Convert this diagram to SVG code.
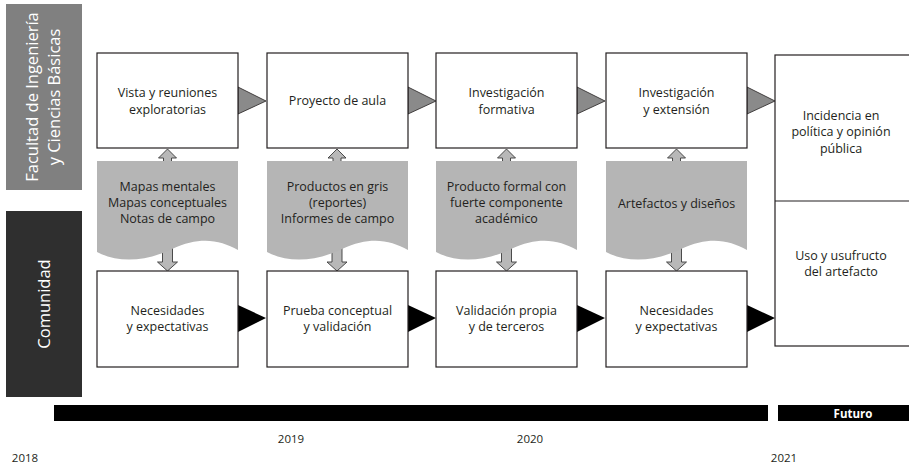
<svg xmlns="http://www.w3.org/2000/svg" width="909" height="467" viewBox="0 0 909 467">
<style>
.box{fill:#fff;stroke:#231f20;stroke-width:1.2}
.doc{fill:#b5b5b5}
.t{font-family:"Open Sans","Liberation Sans",sans-serif;font-size:12.5px;fill:#231f20;text-anchor:middle}
.side{font-family:"Open Sans","Liberation Sans",sans-serif;font-size:16.5px;fill:#fff;text-anchor:middle}
.yr{font-family:"Open Sans","Liberation Sans",sans-serif;font-size:11.5px;fill:#231f20;text-anchor:middle}
.gtri{fill:#8a8a8a;stroke:#231f20;stroke-width:0.8}
.btri{fill:#000}
.arr{fill:#b8b8b8;stroke:#3a3a3a;stroke-width:0.9}
</style>
<rect width="909" height="467" fill="#fff"/>
<g id="lane-facultad">
<rect x="6" y="4" width="76" height="186" fill="#808080"/>
<text class="side" transform="translate(38,97) rotate(-90)">Facultad de Ingeniería</text>
<text class="side" transform="translate(60,97) rotate(-90)">y Ciencias Básicas</text>
</g>
<g id="lane-comunidad">
<rect x="6" y="211" width="76" height="186" fill="#2f2f2f"/>
<text class="side" transform="translate(50,304) rotate(-90)">Comunidad</text>
</g>
<g id="connectors">
<polygon class="gtri" points="238,87 266,101 238,114"/>
<polygon class="gtri" points="408,87 436,101 408,114"/>
<polygon class="gtri" points="577,87 605,101 577,114"/>
<polygon class="gtri" points="747,87 775,101 747,114"/>
<polygon class="btri" points="238,305 266,318 238,332"/>
<polygon class="btri" points="408,305 436,318 408,332"/>
<polygon class="btri" points="577,305 605,318 577,332"/>
<polygon class="btri" points="747,305 775,318 747,332"/>
<path class="arr" d="M167.5,149 L176.5,158 L171.5,158 L171.5,163 L163.5,163 L163.5,158 L158.5,158 Z"/>
<path class="arr" d="M337,149 L346,158 L341,158 L341,163 L333,163 L333,158 L328,158 Z"/>
<path class="arr" d="M506.5,149 L515.5,158 L510.5,158 L510.5,163 L502.5,163 L502.5,158 L497.5,158 Z"/>
<path class="arr" d="M676.5,149 L685.5,158 L680.5,158 L680.5,163 L672.5,163 L672.5,158 L667.5,158 Z"/>
<path class="arr" d="M162.5,246 L172.5,246 L172.5,262 L177.5,262 L167.5,271 L157.5,262 L162.5,262 Z"/>
<path class="arr" d="M332,246 L342,246 L342,262 L347,262 L337,271 L327,262 L332,262 Z"/>
<path class="arr" d="M501.5,246 L511.5,246 L511.5,262 L516.5,262 L506.5,271 L496.5,262 L501.5,262 Z"/>
<path class="arr" d="M671.5,246 L681.5,246 L681.5,262 L686.5,262 L676.5,271 L666.5,262 L671.5,262 Z"/>
</g>
<g id="top1">
<rect class="box" x="97" y="53" width="141" height="95"/>
<text class="t" x="167.5" y="96.5">Vista y reuniones</text>
<text class="t" x="167.5" y="113.5">exploratorias</text>
</g>
<g id="top2">
<rect class="box" x="267" y="53" width="141" height="95"/>
<text class="t" x="337.5" y="105">Proyecto de aula</text>
</g>
<g id="top3">
<rect class="box" x="436" y="53" width="141" height="95"/>
<text class="t" x="506.5" y="96.5">Investigación</text>
<text class="t" x="506.5" y="113.5">formativa</text>
</g>
<g id="top4">
<rect class="box" x="606" y="53" width="141" height="95"/>
<text class="t" x="676.5" y="96.5">Investigación</text>
<text class="t" x="676.5" y="113.5">y extensión</text>
</g>
<g id="doc1">
<path class="doc" d="M97,161 H238 V250 C220,240 200,236 172,249 C145,262 118,263 97,252 Z"/>
<text class="t" x="167.5" y="190.5">Mapas mentales</text>
<text class="t" x="167.5" y="206.5">Mapas conceptuales</text>
<text class="t" x="167.5" y="222.5">Notas de campo</text>
</g>
<g id="doc2">
<path class="doc" d="M267,161 H408 V250 C390,240 370,236 342,249 C315,262 288,263 267,252 Z"/>
<text class="t" x="337.5" y="190.5">Productos en gris</text>
<text class="t" x="337.5" y="206.5">(reportes)</text>
<text class="t" x="337.5" y="222.5">Informes de campo</text>
</g>
<g id="doc3">
<path class="doc" d="M436,161 H577 V250 C559,240 539,236 511,249 C484,262 457,263 436,252 Z"/>
<text class="t" x="506.5" y="190.5">Producto formal con</text>
<text class="t" x="506.5" y="206.5">fuerte componente</text>
<text class="t" x="506.5" y="222.5">académico</text>
</g>
<g id="doc4">
<path class="doc" d="M606,161 H747 V250 C729,240 709,236 681,249 C654,262 627,263 606,252 Z"/>
<text class="t" x="676.5" y="207.5">Artefactos y diseños</text>
</g>
<g id="bot1">
<rect class="box" x="97" y="271" width="141" height="96"/>
<text class="t" x="167.5" y="314.5">Necesidades</text>
<text class="t" x="167.5" y="330.5">y expectativas</text>
</g>
<g id="bot2">
<rect class="box" x="267" y="271" width="141" height="96"/>
<text class="t" x="337.5" y="314.5">Prueba conceptual</text>
<text class="t" x="337.5" y="330.5">y validación</text>
</g>
<g id="bot3">
<rect class="box" x="436" y="271" width="141" height="96"/>
<text class="t" x="506.5" y="314.5">Validación propia</text>
<text class="t" x="506.5" y="330.5">y de terceros</text>
</g>
<g id="bot4">
<rect class="box" x="606" y="271" width="141" height="96"/>
<text class="t" x="676.5" y="314.5">Necesidades</text>
<text class="t" x="676.5" y="330.5">y expectativas</text>
</g>
<g id="outcome">
<rect class="box" x="775" y="55" width="140" height="291"/>
<line x1="775" y1="201" x2="909" y2="201" stroke="#231f20" stroke-width="1.2"/>
<text class="t" x="841" y="119.5">Incidencia en</text>
<text class="t" x="841" y="136">política y opinión</text>
<text class="t" x="841" y="152.5">pública</text>
<text class="t" x="841" y="259.5">Uso y usufructo</text>
<text class="t" x="841" y="275.5">del artefacto</text>
</g>
<g id="timeline">
<rect x="54" y="405" width="714" height="16" fill="#000"/>
<rect x="778" y="405" width="131" height="16" fill="#000"/>
<text x="853" y="417.5" font-family="'Open Sans','Liberation Sans',sans-serif" font-size="11.5" font-weight="bold" fill="#fff" text-anchor="middle">Futuro</text>
<text class="yr" x="291" y="443">2019</text>
<text class="yr" x="530" y="443">2020</text>
<text class="yr" x="25" y="462">2018</text>
<text class="yr" x="784" y="462">2021</text>
</g>
</svg>
